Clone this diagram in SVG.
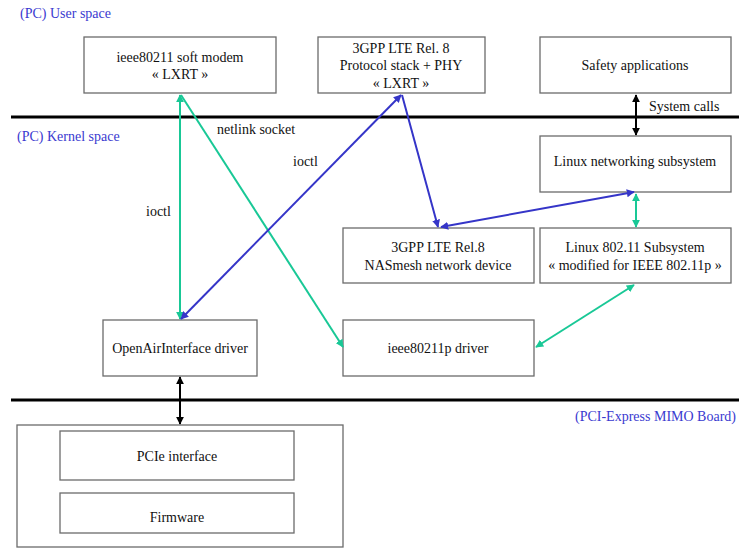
<svg xmlns="http://www.w3.org/2000/svg" width="739" height="551" viewBox="0 0 739 551" font-family="Liberation Serif, Times New Roman, DejaVu Serif, serif">
<style>
.box{fill:#fff;stroke:#6b6b6b;stroke-width:1.3}
text{font-family:'Liberation Serif','Times New Roman','DejaVu Serif',serif;font-size:14px;fill:#111}
.c{text-anchor:middle}
.lbl{fill:#3a3ad0}
.sep{stroke:#000;stroke-width:3}
.g{stroke:#19c896;stroke-width:2;fill:none}
.b{stroke:#3535c8;stroke-width:2;fill:none}
.k{stroke:#000;stroke-width:2;fill:none}
</style>
<defs>
<marker id="mg" viewBox="0 0 10 10" refX="9" refY="5" markerWidth="4" markerHeight="4" orient="auto-start-reverse" markerUnits="strokeWidth"><path d="M0,0L10,5L0,10z" fill="#19c896"/></marker>
<marker id="mb" viewBox="0 0 10 10" refX="9" refY="5" markerWidth="4" markerHeight="4" orient="auto-start-reverse" markerUnits="strokeWidth"><path d="M0,0L10,5L0,10z" fill="#3535c8"/></marker>
<marker id="mk" viewBox="0 0 10 10" refX="9" refY="5" markerWidth="4" markerHeight="4" orient="auto-start-reverse" markerUnits="strokeWidth"><path d="M0,0L10,5L0,10z" fill="#000"/></marker>
</defs>
<g id="separators">
<line class="sep" x1="11" y1="117" x2="739" y2="117"/>
<line class="sep" x1="11" y1="400" x2="739" y2="400"/>
<text class="lbl" x="20" y="18">(PC) User space</text>
<text class="lbl" x="17" y="141">(PC) Kernel space</text>
<text class="lbl" x="575" y="421">(PCI-Express MIMO Board)</text>
</g>
<g id="n_softmodem"><rect class="box" x="84" y="37" width="192" height="56"/><text class="c" x="180" y="62">ieee80211 soft modem</text><text class="c" x="180" y="79">« LXRT »</text></g>
<g id="n_lte_stack"><rect class="box" x="318" y="37" width="167" height="56"/><text class="c" x="401" y="53">3GPP LTE Rel. 8</text><text class="c" x="401" y="70">Protocol stack + PHY</text><text class="c" x="401" y="88">« LXRT »</text></g>
<g id="n_safety"><rect class="box" x="540" y="37" width="191" height="56"/><text class="c" x="635" y="70">Safety applications</text></g>
<g id="n_linuxnet"><rect class="box" x="540" y="136" width="191" height="56"/><text class="c" x="635" y="166">Linux networking subsystem</text></g>
<g id="n_nasmesh"><rect class="box" x="343" y="228" width="191" height="55"/><text class="c" x="438" y="252">3GPP LTE Rel.8</text><text class="c" x="438" y="270">NASmesh network device</text></g>
<g id="n_linux80211"><rect class="box" x="540" y="228" width="191" height="55"/><text class="c" x="635" y="252">Linux  802.11 Subsystem</text><text class="c" x="635" y="270">« modified for IEEE 802.11p »</text></g>
<g id="n_oai"><rect class="box" x="103" y="320" width="154" height="56"/><text class="c" x="180" y="353">OpenAirInterface driver</text></g>
<g id="n_80211p"><rect class="box" x="343" y="320" width="191" height="56"/><text class="c" x="438" y="353">ieee80211p driver</text></g>
<g id="n_board"><rect class="box" x="17" y="425" width="326" height="122"/></g>
<g id="n_pcie"><rect class="box" x="60" y="431" width="234" height="49"/><text class="c" x="177" y="461">PCIe interface</text></g>
<g id="n_firmware"><rect class="box" x="60" y="493" width="234" height="40"/><text class="c" x="177" y="522">Firmware</text></g>
<g id="connectors">
<line class="g" x1="180" y1="95" x2="180" y2="319" marker-start="url(#mg)" marker-end="url(#mg)"/>
<line class="g" x1="181" y1="95" x2="343" y2="347" marker-end="url(#mg)"/>
<line class="b" x1="181" y1="319" x2="401" y2="95" marker-start="url(#mb)" marker-end="url(#mb)"/>
<line class="b" x1="402" y1="95" x2="438" y2="227" marker-end="url(#mb)"/>
<line class="b" x1="441" y1="227" x2="634" y2="192" marker-start="url(#mb)" marker-end="url(#mb)"/>
<line class="g" x1="636" y1="194" x2="636" y2="227" marker-start="url(#mg)" marker-end="url(#mg)"/>
<line class="g" x1="634" y1="285" x2="536" y2="347" marker-start="url(#mg)" marker-end="url(#mg)"/>
<line class="k" x1="636" y1="95" x2="636" y2="135" marker-start="url(#mk)" marker-end="url(#mk)"/>
<line class="k" x1="180" y1="377" x2="180" y2="424" marker-start="url(#mk)" marker-end="url(#mk)"/>
<text x="649" y="111">System calls</text>
<text x="217" y="134">netlink socket</text>
<text x="293" y="166">ioctl</text>
<text x="146" y="216">ioctl</text>
</g>
</svg>
